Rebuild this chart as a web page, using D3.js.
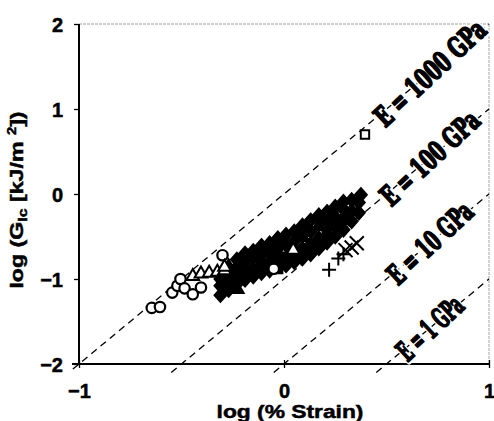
<!DOCTYPE html>
<html>
<head>
<meta charset="utf-8">
<script src="https://cdn.jsdelivr.net/npm/d3@7"></script>
<style>
  html, body { margin: 0; padding: 0; background: #fff; }
  svg { display: block; }
</style>
</head>
<body>
<svg id="chart" width="494" height="421"></svg>
<script>
// Axis ticks
const xTicks = [-1, 0, 1];
const yTicks = [-2, -1, 0, 1, 2];

// Constant-modulus reference lines (GPa)
const moduli = [1000, 100, 10, 1];
const moduliLabels = ["E = 1000 GPa", "E = 100 GPa", "E = 10 GPa", "E = 1 GPa"];

// Data: [log(% strain), log(GIc)]
const openCircles = [
  [-0.645, -1.34], [-0.605, -1.33], [-0.545, -1.16], [-0.52, -1.08],
  [-0.505, -1.00], [-0.485, -1.11], [-0.445, -1.18], [-0.405, -1.10],
  [-0.30, -0.72], [-0.05, -0.88]
];
const openTriangles = [
  [-0.445, -0.97], [-0.405, -0.94], [-0.365, -0.93], [-0.325, -0.92],
  [-0.29, -0.90], [-0.29, -0.86], [0.045, -0.66]
];
const filledDiamonds = [
  [-0.31, -1.19], [-0.31, -1.08], [-0.31, -1.00],
  [-0.27, -1.13], [-0.27, -1.03], [-0.27, -0.93],
  [-0.23, -1.06], [-0.23, -0.97], [-0.23, -0.86], [-0.23, -0.77],
  [-0.19, -1.01], [-0.19, -0.80], [-0.19, -0.70],
  [-0.15, -0.97], [-0.15, -0.88], [-0.15, -0.67],
  [-0.11, -0.93], [-0.11, -0.72], [-0.11, -0.61],
  [-0.07, -0.90], [-0.07, -0.80], [-0.07, -0.58],
  [-0.03, -0.77], [-0.03, -0.64], [-0.03, -0.52],
  [0.01, -0.84], [0.01, -0.60], [0.01, -0.48],
  [0.05, -0.80], [0.05, -0.56], [0.05, -0.44],
  [0.09, -0.76], [0.09, -0.64], [0.09, -0.37],
  [0.13, -0.71], [0.13, -0.44], [0.13, -0.31],
  [0.17, -0.64], [0.17, -0.52], [0.17, -0.25],
  [0.21, -0.57], [0.21, -0.32], [0.21, -0.21],
  [0.25, -0.50], [0.25, -0.38], [0.25, -0.15],
  [0.29, -0.42], [0.29, -0.18], [0.29, -0.09],
  [0.33, -0.32], [0.33, -0.20], [0.33, -0.07],
  [0.365, -0.22], [0.365, -0.10], [0.375, -0.01]
];
const filledSquares = [
  [-0.19, -0.91], [-0.11, -0.83], [-0.03, -0.88], [0.01, -0.74],
  [0.05, -0.70], [0.13, -0.58], [0.21, -0.45], [0.29, -0.30],
  [-0.07, -0.68], [0.09, -0.50], [-0.02, -0.55]
];
const filledTriangles = [
  [-0.27, -0.86], [-0.15, -0.76], [-0.03, -0.70], [0.17, -0.38],
  [0.25, -0.26], [-0.23, -1.12]
];
const openSquares = [[0.395, 0.70]];
const plusMarks = [[0.22, -0.89], [0.265, -0.76], [0.29, -0.71]];
const crossMarks = [[0.30, -0.66], [0.33, -0.63], [0.355, -0.58]];

const svg = d3.select("#chart");
svg.append("rect").attr("width", 494).attr("height", 421).attr("fill", "#fff");

const x = d3.scaleLinear().domain([-1, 1]).range([79, 489]);
const y = d3.scaleLinear().domain([-2, 2]).range([364, 24]);

const FONT = "'Liberation Sans', Arial, sans-serif";

// Plot frame: faint top/right borders
svg.append("line").attr("x1", x(-1)).attr("x2", x(1)).attr("y1", y(2)).attr("y2", y(2))
  .attr("stroke", "#a0a0a0").attr("stroke-width", 1).attr("stroke-dasharray", "3,1");
svg.append("line").attr("x1", x(1)).attr("x2", x(1)).attr("y1", y(2)).attr("y2", y(-2))
  .attr("stroke", "#a0a0a0").attr("stroke-width", 1).attr("stroke-dasharray", "3,1");

// Constant-modulus dashed lines: log G = 2 log(strain) + log E - 3
const lineY = (E, xv) => 2 * xv + Math.log10(E) - 3;
const lineGen = d3.line().x(d => x(d[0])).y(d => y(d[1]));
moduli.forEach(E => {
  const c = Math.log10(E) - 3;
  const x0 = Math.max(-1.03, (-2.1 - c) / 2);
  const x1 = Math.min(1.0, (2.04 - c) / 2);
  svg.append("path")
    .attr("d", lineGen([[x0, lineY(E, x0)], [x1, lineY(E, x1)]]))
    .attr("fill", "none").attr("stroke", "#000").attr("stroke-width", 1.3)
    .attr("stroke-dasharray", "7,5");
});

// Axes
const yAxis = d3.axisLeft(y).tickValues(yTicks).tickSize(5).tickPadding(11).tickFormat(d3.format("d"));
const gy = svg.append("g").attr("transform", `translate(${x(-1)},0)`).call(yAxis);
const xAxis = d3.axisBottom(x).tickValues(xTicks).tickSize(4).tickPadding(16).tickFormat(d3.format("d"));
const gx = svg.append("g").attr("transform", `translate(0,${y(-2)})`).call(xAxis);
[gx, gy].forEach(g => {
  g.select(".domain").attr("stroke", "#000").attr("stroke-width", 2);
  g.selectAll(".tick line").attr("stroke", "#000").attr("stroke-width", 1.3);
  g.selectAll(".tick text").attr("fill", "#000").attr("stroke", "#000").attr("stroke-width", 0.5)
    .style("font-family", FONT).style("font-weight", "bold").style("font-size", "20px");
});
gx.select(".domain").attr("d", `M${x(-1) - 7},0H${x(1) + 1}`);
gy.select(".domain").attr("d", `M0,${y(2)}V${y(-2)}`);
gx.selectAll(".tick line").attr("y1", -4);
gy.selectAll(".tick text").attr("dy", "0.36em");

// Axis titles
svg.append("text")
  .attr("transform", "translate(290,418) scale(1.2,1)")
  .attr("text-anchor", "middle")
  .attr("stroke", "#000").attr("stroke-width", 0.5)
  .style("font-family", FONT).style("font-weight", "bold").style("font-size", "19px")
  .text("log (% Strain)");

const yt = svg.append("text")
  .attr("transform", "translate(23,200) rotate(-90) scale(1.22,1)")
  .attr("text-anchor", "middle")
  .attr("stroke", "#000").attr("stroke-width", 0.5)
  .style("font-family", FONT).style("font-weight", "bold").style("font-size", "19px");
yt.append("tspan").text("log (G");
yt.append("tspan").text("Ic").style("font-size", "13px").attr("dy", 4);
yt.append("tspan").text(" [kJ/m ").attr("dy", -4);
yt.append("tspan").text("2").style("font-size", "12px").attr("dy", -7);
yt.append("tspan").text("])").attr("dy", 7);

// Markers
const marks = svg.append("g");
const sym = (type, size) => d3.symbol().type(type).size(size)();

marks.selectAll(".fd").data(filledDiamonds).join("path")
  .attr("transform", d => `translate(${x(d[0])},${y(d[1])}) scale(1.15,1.3)`)
  .attr("d", sym(d3.symbolDiamond2, 70))
  .attr("fill", "#000").attr("stroke", "#000").attr("stroke-width", 1.5);

marks.selectAll(".fs").data(filledSquares).join("path")
  .attr("transform", d => `translate(${x(d[0])},${y(d[1])})`)
  .attr("d", sym(d3.symbolSquare, 90))
  .attr("fill", "#000").attr("stroke", "#000").attr("stroke-width", 1.5);

marks.selectAll(".ft").data(filledTriangles).join("path")
  .attr("transform", d => `translate(${x(d[0])},${y(d[1])})`)
  .attr("d", sym(d3.symbolTriangle, 90))
  .attr("fill", "#000").attr("stroke", "#000").attr("stroke-width", 1.5);

marks.selectAll(".oc").data(openCircles).join("circle")
  .attr("cx", d => x(d[0])).attr("cy", d => y(d[1])).attr("r", 5.2)
  .attr("fill", "#fff").attr("stroke", "#000").attr("stroke-width", 2.2);

marks.selectAll(".ot").data(openTriangles).join("path")
  .attr("transform", d => `translate(${x(d[0])},${y(d[1])})`)
  .attr("d", sym(d3.symbolTriangle, 70))
  .attr("fill", "#fff").attr("stroke", "#000").attr("stroke-width", 2);

marks.selectAll(".os").data(openSquares).join("path")
  .attr("transform", d => `translate(${x(d[0])},${y(d[1])})`)
  .attr("d", sym(d3.symbolSquare, 70))
  .attr("fill", "#fff").attr("stroke", "#000").attr("stroke-width", 2);

marks.selectAll(".pl").data(plusMarks).join("path")
  .attr("transform", d => `translate(${x(d[0])},${y(d[1])})`)
  .attr("d", "M-7,0H7M0,-7V7")
  .attr("stroke", "#000").attr("stroke-width", 2).attr("fill", "none");

marks.selectAll(".cr").data(crossMarks).join("path")
  .attr("transform", d => `translate(${x(d[0])},${y(d[1])})`)
  .attr("d", "M-7,-7L7,7M-7,7L7,-7")
  .attr("stroke", "#000").attr("stroke-width", 2).attr("fill", "none");

// Modulus labels laid along each line, squeezed into a condensed heavy face
const labelAt = 0.712;
const labelFont = "'DejaVu Serif Condensed', 'DejaVu Serif', serif";
moduli.forEach((E, i) => {
  const cx = x(labelAt), cy = y(lineY(E, labelAt));
  const len = [141, 124, 106, 80][i];
  const g = svg.append("g").attr("transform", `translate(${cx},${cy}) rotate(-43)`);
  [["#fff", 6], ["#000", 1.8]].forEach(([col, sw]) => {
    const t = g.append("text")
      .attr("text-anchor", "middle").attr("dy", "0.35em")
      .style("font-family", labelFont)
      .style("font-weight", "bold").style("font-size", "28px")
      .attr("fill", col).attr("stroke", col).attr("stroke-width", sw)
      .attr("stroke-linejoin", "round")
      .text(moduliLabels[i]);
    const w = t.node().getComputedTextLength();
    t.attr("transform", `scale(${len / w},1)`);
  });
});
</script>
</body>
</html>
